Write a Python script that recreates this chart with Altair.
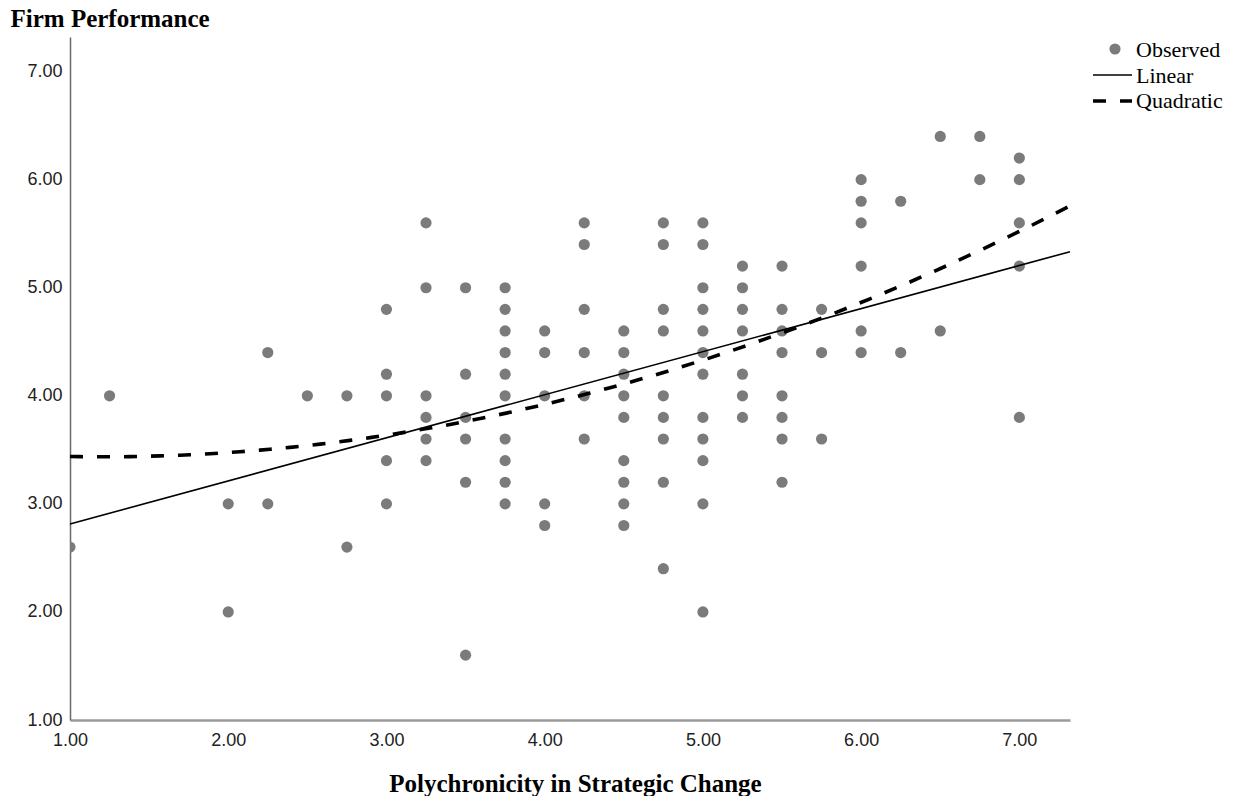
import altair as alt
import pandas as pd

# Observed points (x = Polychronicity in Strategic Change, y = Firm Performance)
polychronicity = [
    1.00,
    1.25,
    2.00, 2.00,
    2.25, 2.25,
    2.50,
    2.75, 2.75,
    3.00, 3.00, 3.00, 3.00, 3.00,
    3.25, 3.25, 3.25, 3.25, 3.25, 3.25,
    3.50, 3.50, 3.50, 3.50, 3.50, 3.50,
    3.75, 3.75, 3.75, 3.75, 3.75, 3.75, 3.75, 3.75, 3.75, 3.75,
    4.00, 4.00, 4.00, 4.00, 4.00,
    4.25, 4.25, 4.25, 4.25, 4.25, 4.25,
    4.50, 4.50, 4.50, 4.50, 4.50, 4.50, 4.50, 4.50, 4.50,
    4.75, 4.75, 4.75, 4.75, 4.75, 4.75, 4.75, 4.75, 4.75,
    5.00, 5.00, 5.00, 5.00, 5.00, 5.00, 5.00, 5.00, 5.00, 5.00, 5.00, 5.00,
    5.25, 5.25, 5.25, 5.25, 5.25, 5.25, 5.25,
    5.50, 5.50, 5.50, 5.50, 5.50, 5.50, 5.50, 5.50,
    5.75, 5.75, 5.75,
    6.00, 6.00, 6.00, 6.00, 6.00, 6.00,
    6.25, 6.25,
    6.50, 6.50,
    6.75, 6.75,
    7.00, 7.00, 7.00, 7.00, 7.00,
]
performance = [
    2.60,
    4.00,
    3.00, 2.00,
    4.40, 3.00,
    4.00,
    4.00, 2.60,
    4.80, 4.20, 4.00, 3.40, 3.00,
    5.60, 5.00, 4.00, 3.80, 3.60, 3.40,
    5.00, 4.20, 3.80, 3.60, 3.20, 1.60,
    5.00, 4.80, 4.60, 4.40, 4.20, 4.00, 3.60, 3.40, 3.20, 3.00,
    4.60, 4.40, 4.00, 3.00, 2.80,
    5.60, 5.40, 4.80, 4.40, 4.00, 3.60,
    4.60, 4.40, 4.20, 4.00, 3.80, 3.40, 3.20, 3.00, 2.80,
    5.60, 5.40, 4.80, 4.60, 4.00, 3.80, 3.60, 3.20, 2.40,
    5.60, 5.40, 5.00, 4.80, 4.60, 4.40, 4.20, 3.80, 3.60, 3.40, 3.00, 2.00,
    5.20, 5.00, 4.80, 4.60, 4.20, 4.00, 3.80,
    5.20, 4.80, 4.60, 4.40, 4.00, 3.80, 3.60, 3.20,
    4.80, 4.40, 3.60,
    6.00, 5.80, 5.60, 5.20, 4.60, 4.40,
    5.80, 4.40,
    6.40, 4.60,
    6.40, 6.00,
    6.20, 6.00, 5.60, 5.20, 3.80,
]

x_ticks = [1, 2, 3, 4, 5, 6, 7]
y_ticks = [1, 2, 3, 4, 5, 6, 7]
axis_domain = [1, 7.32]
legend_labels = ["Observed", "Linear", "Quadratic"]

df = pd.DataFrame({"x": polychronicity, "y": performance})
leg_df = pd.DataFrame({"label": legend_labels})

DOT = "#7b7b7b"

x_enc = alt.X(
    "x:Q",
    scale=alt.Scale(domain=axis_domain, nice=False, zero=False),
    axis=alt.Axis(
        values=x_ticks, format=".2f", title="Polychronicity in Strategic Change",
        grid=False, ticks=False, tickSize=0, labelFlush=False,
        domainColor="#9a9a9a", domainWidth=2.5,
        labelFont="Liberation Sans", labelFontSize=18, labelColor="#222222",
        labelPadding=11,
        titleFont="Liberation Serif", titleFontSize=25, titleFontWeight="bold",
        titleColor="black", titleX=505, titleY=71, titleAlign="center",
        titleBaseline="alphabetic",
    ),
)
y_enc = alt.Y(
    "y:Q",
    scale=alt.Scale(domain=axis_domain, nice=False, zero=False),
    axis=alt.Axis(
        values=y_ticks, format=".2f", title="Firm Performance",
        grid=False, ticks=False, tickSize=0,
        domainColor="#6a6a6a", domainWidth=1.5,
        labelFont="Liberation Sans", labelFontSize=18, labelColor="#222222",
        labelPadding=8,
        titleFont="Liberation Serif", titleFontSize=25, titleFontWeight="bold",
        titleColor="black", titleAngle=0, titleX=-60, titleY=-11,
        titleAlign="left", titleBaseline="alphabetic",
    ),
)

base = alt.Chart(df)

points = base.mark_circle(size=125, color=DOT, opacity=1, clip=True).encode(
    x=x_enc, y=y_enc
)

linear = base.transform_regression(
    "x", "y", method="linear", extent=axis_domain
).mark_line(color="black", strokeWidth=1.6).encode(x=x_enc, y=y_enc)

quadratic = base.transform_regression(
    "x", "y", method="poly", order=2, extent=axis_domain
).mark_line(color="black", strokeWidth=3.6, strokeDash=[13, 14]).encode(
    x=x_enc, y=y_enc
)

# Legend (top right)
leg_base = alt.Chart(leg_df)
leg_dot = leg_base.transform_filter(alt.datum.label == "Observed").mark_circle(
    size=125, color=DOT, opacity=1
).encode(x=alt.value(1045), y=alt.value(12))
leg_lin = leg_base.transform_filter(alt.datum.label == "Linear").mark_rule(
    color="black", strokeWidth=1.6
).encode(x=alt.value(1023), x2=alt.value(1062), y=alt.value(38))
leg_quad = leg_base.transform_filter(alt.datum.label == "Quadratic").mark_rule(
    color="black", strokeWidth=3.6, strokeDash=[13, 14]
).encode(x=alt.value(1023), x2=alt.value(1062), y=alt.value(64))

leg_texts = []
for lab, ypos in zip(legend_labels, [13, 39, 64]):
    leg_texts.append(
        leg_base.transform_filter(alt.datum.label == lab).mark_text(
            align="left", baseline="middle", font="Liberation Serif",
            fontSize=22, color="black"
        ).encode(text="label:N", x=alt.value(1066), y=alt.value(ypos))
    )

chart = alt.layer(
    points, linear, quadratic, leg_dot, leg_lin, leg_quad, *leg_texts
).properties(
    width=1000,
    height=683,
    autosize=alt.AutoSizeParams(type="none"),
    padding={"left": 62, "top": 29, "right": 155, "bottom": 76},
    background="white",
).configure_view(stroke=None)

chart.save("out.html", embed_options={"renderer": "svg", "actions": False})
